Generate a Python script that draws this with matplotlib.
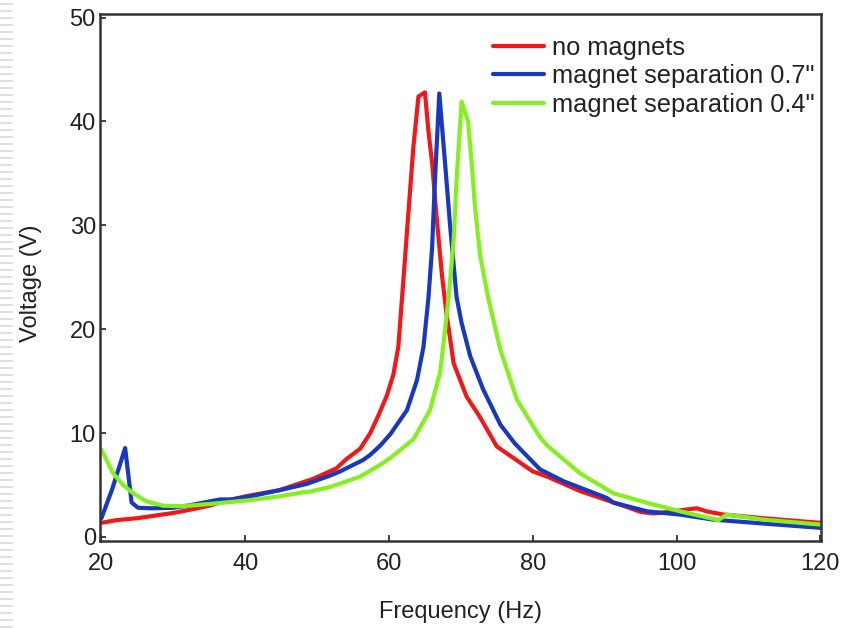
import matplotlib
matplotlib.use("Agg")
import matplotlib.pyplot as plt
from matplotlib.lines import Line2D

# ---- data ----
freq_none = [20, 22, 25, 28, 30, 33, 35, 37, 40, 44.8, 49.5, 52.7, 54.1, 56.0, 57.4,
             58.6, 59.7, 60.6, 61.3, 62.0, 62.7, 63.4, 64.1, 65.0, 65.5, 66.0, 66.6,
             67.4, 68.0, 69.0, 70.8, 72.6, 75.0, 77.3, 80.0, 82.0, 86.6, 90.0, 93.0,
             95.0, 96.8, 99.6, 101.0, 102.8, 104.2, 106.5, 112.0, 120.0]
volt_none = [1.35, 1.6, 1.8, 2.1, 2.3, 2.7, 3.0, 3.4, 3.9, 4.5, 5.6, 6.6, 7.5, 8.5, 10.0,
             11.8, 13.6, 15.6, 18.3, 24.7, 31.2, 37.6, 42.4, 42.8, 39.0, 36.0, 31.0,
             25.0, 21.5, 16.7, 13.5, 11.6, 8.7, 7.6, 6.3, 5.8, 4.4, 3.6, 2.9,
             2.4, 2.25, 2.45, 2.6, 2.75, 2.45, 2.15, 1.8, 1.35]

freq_07 = [20, 21.5, 23.3, 24.2, 25.1, 27, 30, 32, 34.2, 36.5, 38, 40, 44.8, 48.6,
           51.8, 53.2, 56.4, 57.4, 58.8, 60.2, 62.5, 63.9, 64.8, 65.5, 66.0, 66.4,
           67.0, 67.8, 68.5, 69.4, 70.1, 71.3, 73.1, 75.5, 77.5, 79.6, 81.0, 84.3,
           90.3, 91.2, 95.9, 100.5, 105.1, 112.1, 120]
volt_07 = [1.8, 4.6, 8.55, 3.3, 2.8, 2.75, 2.8, 3.0, 3.3, 3.6, 3.6, 3.8, 4.5, 5.1,
           5.9, 6.3, 7.4, 7.9, 8.8, 9.9, 12.2, 15.1, 18.3, 23.1, 27.9, 34.4,
           42.7, 36.0, 30.0, 23.1, 20.6, 17.4, 14.2, 10.8, 9.0, 7.5, 6.5, 5.35,
           3.75, 3.3, 2.46, 2.14, 1.66, 1.28, 0.87]

freq_04 = [20, 21.6, 23.0, 24.4, 26.3, 28.6, 30.9, 33, 35.6, 40.2, 44.8, 48.1, 49.0,
           51.8, 56.0, 58.8, 60.2, 63.4, 65.7, 67.1, 67.8, 68.3, 69.0, 69.4, 70.1,
           71.0, 71.5, 72.0, 72.7, 73.8, 75.5, 77.8, 81.0, 82.0, 86.6, 91.2, 95.9,
           100.5, 105.1, 105.8, 107.0, 112.1, 120]
volt_04 = [8.4, 6.15, 5.0, 4.2, 3.4, 3.0, 2.95, 3.05, 3.2, 3.5, 3.9, 4.3, 4.35,
           4.8, 5.8, 6.95, 7.6, 9.4, 12.2, 15.8, 19.9, 23.1, 28.6, 34.4, 41.9,
           40.0, 36.0, 31.5, 27.0, 23.0, 18.0, 13.2, 9.6, 8.8, 6.1, 4.2, 3.27,
           2.46, 1.73, 1.6, 2.14, 1.66, 1.18]

series_labels = ["no magnets", "magnet separation 0.7\"", "magnet separation 0.4\""]
series_colors = ["#f01818", "#1838c0", "#84f020"]
x_ticks = [20, 40, 60, 80, 100, 120]
y_ticks = [0, 10, 20, 30, 40, 50]

plt.rcParams['font.family'] = ['Liberation Sans', 'DejaVu Sans']

fig = plt.figure(figsize=(8.55, 6.28), dpi=100)
ax = fig.add_axes([100/855, 1 - 541/628, 721/855, 527/628])

for fx, vy, lab, col in zip([freq_none, freq_07, freq_04],
                            [volt_none, volt_07, volt_04],
                            series_labels, series_colors):
    ax.plot(fx, vy, color=col, lw=3.0, label=lab, solid_joinstyle='round',
            solid_capstyle='round')

ax.set_xlim(19.8, 120.1)
ax.set_ylim(-0.4, 50.35)
ax.set_xticks(x_ticks)
ax.set_yticks(y_ticks)
ax.tick_params(direction='in', length=4, width=1.2, labelsize=17, colors='#222222')
ax.tick_params(axis='x', pad=9)
ax.tick_params(axis='y', pad=3)
for s in ax.spines.values():
    s.set_linewidth(1.8)
    s.set_color('#333333')

ax.set_xlabel("Frequency (Hz)", fontsize=17, color='#222222')
ax.set_ylabel("Voltage (V)", fontsize=17, color='#222222')
ax.xaxis.set_label_coords(0.5, -0.114)
ax.yaxis.set_label_coords(-0.0804, 0.49)

leg = ax.legend(loc='upper right', bbox_to_anchor=(815/855, 1 - 36/628),
                bbox_transform=fig.transFigure, frameon=False, fontsize=18.3,
                handlelength=2.0, handletextpad=0.32, labelspacing=0.17,
                borderpad=0, borderaxespad=0)
for t in leg.get_texts():
    t.set_color('#222222')

# decorative striped margin at left edge
yy = 4
while yy < 628:
    fig.add_artist(Line2D([0, 12/855], [1 - yy/628, 1 - yy/628],
                          transform=fig.transFigure, color='#d9d9d9', lw=1.2))
    yy += 7

fig.savefig("out.png", dpi=100)
